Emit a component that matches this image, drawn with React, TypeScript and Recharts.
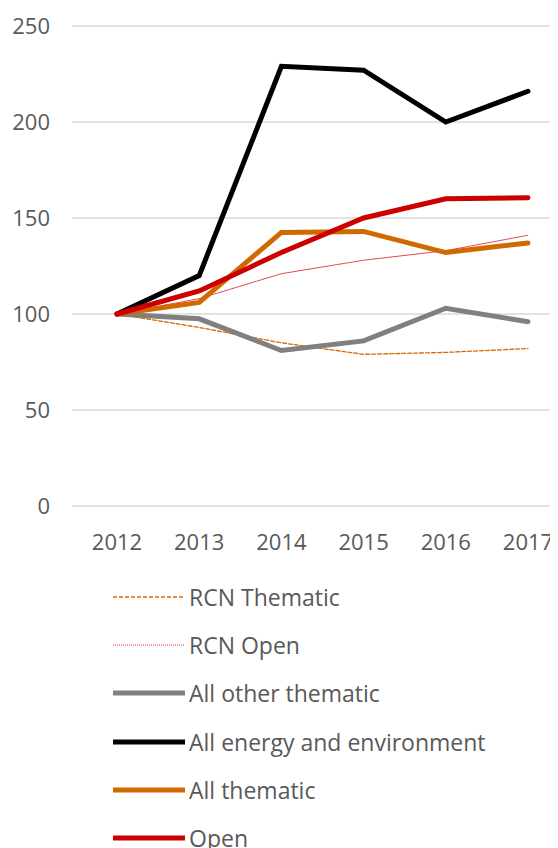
import { LineChart, Line, XAxis, YAxis, CartesianGrid } from 'recharts'

const years = ['2012', '2013', '2014', '2015', '2016', '2017']
const rcnThematic = [100, 93, 85, 79, 80, 82]
const rcnOpen = [100, 108, 121, 128, 133, 141]
const allOtherThematic = [100, 97.5, 81, 86, 103, 96]
const allEnergyEnv = [100, 120, 229, 227, 200, 216]
const allThematic = [100, 106, 142.5, 143, 132, 137]
const openValues = [100, 112, 132, 150, 160, 160.5]
const yTicks = [0, 50, 100, 150, 200, 250]

const data = years.map((year, i) => ({
  year,
  rcnThematic: rcnThematic[i],
  rcnOpen: rcnOpen[i],
  allOther: allOtherThematic[i],
  energy: allEnergyEnv[i],
  allThematic: allThematic[i],
  open: openValues[i],
}))

const series = [
  { key: 'rcnThematic', name: 'RCN Thematic', color: '#D46B08', width: 1.3, dash: '4 2' },
  { key: 'rcnOpen', name: 'RCN Open', color: '#E0303A', width: 1, dash: '1 1' },
  { key: 'allOther', name: 'All other thematic', color: '#808080', width: 5, dash: undefined },
  { key: 'energy', name: 'All energy and environment', color: '#000000', width: 5, dash: undefined },
  { key: 'allThematic', name: 'All thematic', color: '#D06A00', width: 5, dash: undefined },
  { key: 'open', name: 'Open', color: '#CC0000', width: 5, dash: undefined },
]

const font = '"Open Sans", sans-serif'
const textColor = '#595959'

// legend as a plain column of rows under the axis, outside recharts' layout
const LegendBox = () => (
  <div style={{ position: 'absolute', top: 565, left: 105, fontFamily: font, fontSize: 23, color: textColor }}>
    {series.map((s) => (
      <div key={s.key} style={{ display: 'flex', alignItems: 'center', height: 48.2, whiteSpace: 'nowrap' }}>
        <svg width={76} height={10}>
          <line x1={0} y1={5} x2={72} y2={5} stroke={s.color} strokeWidth={s.width} strokeDasharray={s.dash} />
        </svg>
        <span>{s.name}</span>
      </div>
    ))}
  </div>
)

export default function App() {
  return (
    <div style={{ position: 'relative', width: 550, height: 840 }}>
      <LineChart
        width={550}
        height={840}
        data={data}
        margin={{ top: 18, right: 0, left: 0, bottom: 312 }}
        style={{ overflow: 'visible' }}
      >
        <CartesianGrid vertical={false} stroke="#D9D9D9" strokeWidth={1.5} />
        <XAxis
          dataKey="year"
          height={30}
          axisLine={false}
          tickLine={false}
          tickSize={0}
          tickMargin={28}
          interval={0}
          padding={{ left: 45, right: 30 }}
          tick={{ fontSize: 22, fill: textColor, fontFamily: font }}
        />
        <YAxis
          width={64}
          domain={[0, 250]}
          ticks={yTicks}
          axisLine={false}
          tickLine={false}
          tickSize={0}
          tickMargin={22}
          tick={{ fontSize: 22, fill: textColor, fontFamily: font }}
        />
        {series.map((s) => (
          <Line
            key={s.key}
            type="linear"
            dataKey={s.key}
            name={s.name}
            stroke={s.color}
            strokeWidth={s.width}
            strokeDasharray={s.dash}
            strokeLinecap="round"
            dot={false}
            activeDot={false}
            isAnimationActive={false}
          />
        ))}
      </LineChart>
      <LegendBox />
    </div>
  )
}
